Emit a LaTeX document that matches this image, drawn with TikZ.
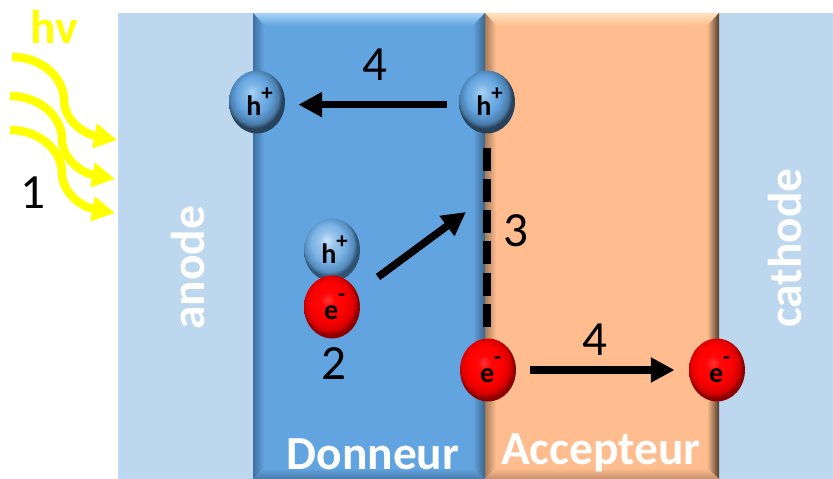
\documentclass[tikz,border=0pt]{standalone}
\usepackage{fontspec}
\setmainfont{Carlito}
\usepackage{xcolor}
\usetikzlibrary{arrows.meta,shapes.geometric}
\definecolor{anodeblue}{HTML}{BDD7EE}
\definecolor{donor}{HTML}{62A4E0}
\definecolor{donorlight}{HTML}{A6D5F8}
\definecolor{donorleft}{HTML}{3F70A0}
\definecolor{donorright}{HTML}{3C6488}
\definecolor{donorbottom}{HTML}{4A7CAC}
\definecolor{acceptor}{HTML}{FFBD8F}
\definecolor{acceptorlight}{HTML}{FFE3BE}
\definecolor{acceptorleft}{HTML}{A67B5A}
\definecolor{acceptorright}{HTML}{4F3B2C}
\definecolor{acceptorbottom}{HTML}{C4906C}
\definecolor{lightyellow}{HTML}{FFFF00}
\pgfdeclareradialshading{holeball}{\pgfpoint{-5bp}{8bp}}{%
  color(0bp)=(donorlight); color(7bp)=(donor!80!white); color(15bp)=(donor);
  color(22bp)=(donor!75!black); color(25bp)=(donor!40!black); color(50bp)=(donor!40!black)}
\pgfdeclareradialshading{holeballpale}{\pgfpoint{-5bp}{8bp}}{%
  color(0bp)=(donorlight!60!white); color(7bp)=(donor!65!white); color(15bp)=(donor!85!white);
  color(22bp)=(donor!85!black); color(25bp)=(donor!50!black); color(50bp)=(donor!50!black)}
\pgfdeclareradialshading{electronball}{\pgfpoint{-4bp}{6bp}}{%
  color(0bp)=(red!80!white); color(6bp)=(red!97!white); color(15bp)=(red);
  color(22bp)=(red!85!black); color(25bp)=(red!55!black); color(50bp)=(red!55!black)}
\tikzset{
  arrowblack/.style={-{Triangle[length=13.5pt,width=13.5pt]}, line width=4.3pt, draw=black},
  arrowyellow/.style={-{Triangle[length=13pt,width=13.5pt]}, line width=4.8pt, draw=lightyellow},
  interface/.style={line width=4pt, draw=black, dash pattern=on 13pt off 4.8pt},
  ball/.style={ellipse, inner sep=0pt, minimum width=1.12cm, minimum height=1.26cm, font=\fontsize{16}{16}\selectfont\bfseries},
  hole/.style={ball, shading=holeball},
  holepale/.style={ball, shading=holeballpale},
  electron/.style={ball, shading=electronball},
  num/.style={font=\fontsize{28}{28}\selectfont, text=black},
  layer/.style={inner sep=0pt, font=\fontsize{27}{27}\selectfont\bfseries, text=white}
}
\newcommand{\DrawBevelBox}[7]{% xmin,xmax,base,top,left,right,bottom
  \fill[#3] (#1,13) rectangle (#2,479);
  \shade[top color=#4, bottom color=#3] (#1,13) -- (#2,13) -- ({#2-13},26) -- ({#1+13},26) -- cycle;
  \shade[left color=#5, right color=#3] (#1,13) -- ({#1+11},26) -- ({#1+11},468) -- (#1,479) -- cycle;
  \shade[left color=#3, right color=#6] (#2,13) -- ({#2-12},26) -- ({#2-12},468) -- (#2,479) -- cycle;
  \shade[top color=#3, bottom color=#7] (#1,479) -- ({#1+11},468) -- ({#2-12},468) -- (#2,479) -- cycle;
}
\newcommand{\holetxt}{\hspace{3pt}\raisebox{-4.5pt}{h\raisebox{8.5pt}{\fontsize{13}{13}\selectfont +}}}
\newcommand{\electrontxt}{\hspace{3pt}\raisebox{-6pt}{e\raisebox{10pt}{\fontsize{13}{13}\selectfont -}}}
\begin{document}
\begin{tikzpicture}[x=0.02cm,y=-0.02cm]
  \useasboundingbox (0,0) rectangle (833,479);
  % electrodes and layers
  \fill[anodeblue] (118,13) rectangle (253,479);
  \fill[anodeblue] (719,13) rectangle (833,479);
  \DrawBevelBox{253}{485}{donor}{donorlight}{donorleft}{donorright}{donorbottom}
  \DrawBevelBox{485}{719}{acceptor}{acceptorlight}{acceptorleft}{acceptorright}{acceptorbottom}
  \node[layer, rotate=90] (anode) at (188,268) {anode};
  \node[layer, rotate=90] (cathode) at (785,248) {cathode};
  \node[layer] (donneur) at (373,454) {Donneur};
  \node[layer] (accepteur) at (601,453) {Accepteur};
  % incoming light
  \foreach \dx/\dy in {0/0,-2/39,-2/73}{
    \draw[arrowyellow, shift={(\dx,\dy)}] (12,57) .. controls (42,57) and (64,78) .. (64,100)
      .. controls (64,120) and (84,134) .. (117,140);
  }
  \node[font=\fontsize{27}{27}\selectfont\bfseries, text=lightyellow] (hv) at (54,27) {hv};
  \node[num] (n1) at (33,193) {1};
  % charges
  \node[hole] (holeD) at (257,102) {\holetxt};
  \node[hole] (holeA) at (487,102) {\holetxt};
  \node[holepale] (holeX) at (332,250) {\holetxt};
  \node[electron] (elecX) at (332,307) {\electrontxt};
  \node[electron] (elecA) at (488,370) {\electrontxt};
  \node[electron] (elecC) at (717,370) {\electrontxt};
  \draw[interface, shorten <=26pt, shorten >=21pt] (holeA.center) -- (487,370);
  % transfers
  \coordinate (exciton) at (378,277);
  \coordinate (interf) at (466,212);
  \draw[arrowblack, shorten <=6.8pt, shorten >=7.4pt] ([yshift=-1.5pt]holeA.west) -- ([yshift=-1.5pt]holeD.east);
  \draw[arrowblack, shorten <=8pt, shorten >=8pt] (elecA) -- (elecC);
  \draw[arrowblack] (exciton) -- (interf);
  \node[num] (n4a) at (375,65) {4};
  \node[num] (n3) at (516,231) {3};
  \node[num] (n2) at (334,364) {2};
  \node[num] (n4b) at (595,340) {4};
\end{tikzpicture}
\end{document}
